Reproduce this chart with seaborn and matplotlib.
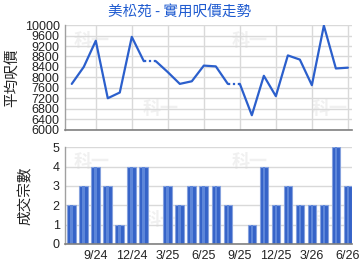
import numpy as np
import pandas as pd
import matplotlib
matplotlib.use("Agg")
import matplotlib.pyplot as plt
import seaborn as sns

months = ['7/24', '8/24', '9/24', '10/24', '11/24', '12/24', '1/25', '2/25', '3/25', '4/25',
          '5/25', '6/25', '7/25', '8/25', '9/25', '10/25', '11/25', '12/25', '1/26', '2/26',
          '3/26', '4/26', '5/26', '6/26']
price = [7750, 8400, 9400, 7200, 7420, 9550, 8620, None, 8200, 7750, 7850, 8450, 8420, 7750,
         None, 6550, 8060, 7280, 8840, 8680, 7700, 9980, 8340, 8370]
deals = [2, 3, 4, 3, 1, 4, 4, 0, 3, 2, 3, 3, 3, 2, 0, 1, 4, 2, 3, 2, 2, 2, 5, 3]
tick_labels = ['9/24', '12/24', '3/25', '6/25', '9/25', '12/25', '3/26', '6/26']
price_ticks = list(range(6000, 10001, 400))
deal_ticks = [0, 1, 2, 3, 4, 5]
title = '美松苑 - 實用呎價走勢'
ylabel_top = '平均呎價'
ylabel_bot = '成交宗數'

sns.set_theme(style='white')
plt.rcParams['font.family'] = ['Noto Sans CJK TC', 'DejaVu Sans']

LINE = '#2b5fcc'
GRID = '#d9d9d9'
TICKFONT = 'Liberation Sans'

filled = []
last = None
for v in price:
    if v is None:
        filled.append(last)
    else:
        filled.append(v)
        last = v
rows = []
seg = 0
for i in range(len(price)):
    if price[i] is None:
        rows.append(dict(x=i - 1, y=filled[i - 1], seg=f'd{i}', kind='dot'))
        rows.append(dict(x=i, y=filled[i], seg=f'd{i}', kind='dot'))
        seg += 1
        rows.append(dict(x=i, y=filled[i], seg=f's{seg}', kind='solid'))
    else:
        rows.append(dict(x=i, y=filled[i], seg=f's{seg}', kind='solid'))
line_df = pd.DataFrame(rows)
bar_df = pd.DataFrame(dict(month=months, deals=deals))

fig = plt.figure(figsize=(3.6, 2.7), dpi=100)
ax1 = fig.add_axes([0.181, 0.520, 0.797, 0.387])
ax2 = fig.add_axes([0.181, 0.0963, 0.797, 0.3582])

xlim = (-0.55, 23.35)
tick_pos = [months.index(t) for t in tick_labels]

for ax in (ax1, ax2):
    ax.set_xlim(*xlim)
    ax.set_xticks(tick_pos)
    ax.grid(True, color=GRID, linewidth=1.0)
    ax.set_axisbelow(True)
    for s in ('top', 'right'):
        ax.spines[s].set_visible(False)
    ax.spines['left'].set_color('#a0a0a0')
    ax.spines['bottom'].set_color('#808080')
    ax.spines['left'].set_linewidth(1.0)
    ax.spines['bottom'].set_linewidth(1.2)
    ax.tick_params(axis='both', labelsize=9, colors='#222222', length=3, width=0.8,
                   direction='out', pad=1)
    ax.tick_params(axis='y', color='#b0b0b0', length=3)

for ax, pts in ((ax1, [(0.03, 0.85), (0.58, 0.85), (0.27, 0.2), (0.86, 0.2)]),
                (ax2, [(0.03, 0.85), (0.58, 0.85), (0.27, 0.25), (0.86, 0.25)])):
    for (px, py) in pts:
        ax.text(px, py, '科一', transform=ax.transAxes, fontsize=13, fontweight='bold',
                color='#f0f0f0', zorder=0.5, ha='left', va='center')

sns.lineplot(data=line_df, x='x', y='y', units='seg', style='kind', estimator=None,
             dashes={'solid': '', 'dot': (1, 1.2)}, color=LINE, linewidth=1.6,
             legend=False, ax=ax1, sort=False)
ax1.set_ylim(6000, 10000)
ax1.set_yticks(price_ticks)
ax1.set_yticklabels([str(v) for v in price_ticks], fontfamily=TICKFONT)
ax1.set_xticklabels([])
ax1.tick_params(axis='x', length=0)
ax1.set_xlabel('')
ax1.set_ylabel(ylabel_top, fontsize=10.5, color='#222222', labelpad=4)

sns.barplot(data=bar_df, x='month', y='deals', order=months, color='#3563c8',
            width=0.72, edgecolor='#86a2de', linewidth=0.8, saturation=1, ax=ax2)
sns.barplot(data=bar_df, x='month', y='deals', order=months, color='#5d86d9',
            width=0.22, linewidth=0, saturation=1, ax=ax2)
ax2.set_xlim(*xlim)
ax2.set_ylim(0, 5)
ax2.set_yticks(deal_ticks)
ax2.set_yticklabels([str(v) for v in deal_ticks], fontfamily=TICKFONT)
ax2.set_xticks(tick_pos)
ax2.set_xticklabels(tick_labels, fontfamily=TICKFONT)
ax2.set_xlabel('')
ax2.set_ylabel(ylabel_bot, fontsize=10.5, color='#222222', labelpad=14)
ax2.tick_params(axis='x', color='#808080')

fig.text(0.5, 1 - 13 / 270, title, fontsize=10.5, color='#1f5bd0', ha='center', va='center')

fig.savefig('out.png', dpi=100)
